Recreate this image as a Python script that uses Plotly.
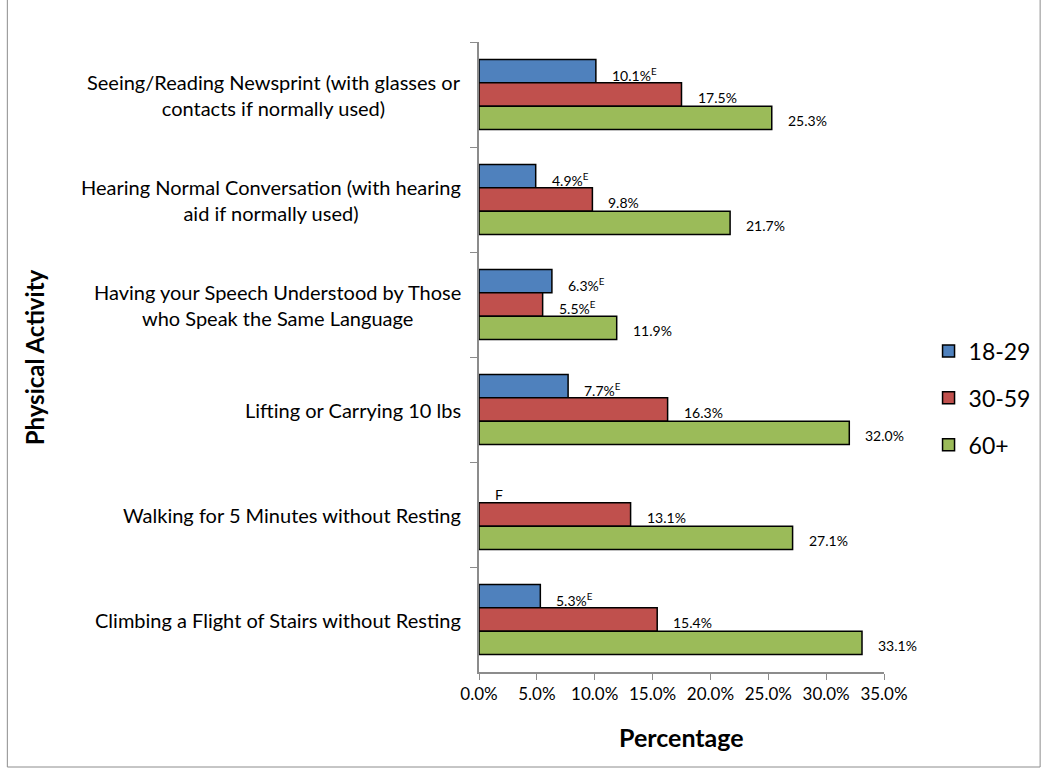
import plotly.graph_objects as go

categories = [
    "Seeing/Reading Newsprint (with glasses or<br>contacts if normally used)",
    "Hearing Normal Conversation (with hearing<br>aid if normally used)",
    "Having your Speech Understood by Those<br>who Speak the Same Language",
    "Lifting or Carrying 10 lbs",
    "Walking for 5 Minutes without Resting",
    "Climbing a Flight of Stairs without Resting",
]
series_names = ["18-29", "30-59", "60+"]
v_18_29 = [10.1, 4.9, 6.3, 7.7, None, 5.3]
v_30_59 = [17.5, 9.8, 5.5, 16.3, 13.1, 15.4]
v_60p = [25.3, 21.7, 11.9, 32.0, 27.1, 33.1]
lab_18_29 = ["10.1%<sup>E</sup>", "4.9%<sup>E</sup>", "6.3%<sup>E</sup>", "7.7%<sup>E</sup>", "F", "5.3%<sup>E</sup>"]
lab_30_59 = ["17.5%", "9.8%", "5.5%<sup>E</sup>", "16.3%", "13.1%", "15.4%"]
lab_60p = ["25.3%", "21.7%", "11.9%", "32.0%", "27.1%", "33.1%"]
x_ticks = [0, 5, 10, 15, 20, 25, 30, 35]
x_tick_text = ["0.0%", "5.0%", "10.0%", "15.0%", "20.0%", "25.0%", "30.0%", "35.0%"]

colors = ["#4F81BD", "#C0504D", "#9BBB59"]
FONT = "Lato"

values = [v_18_29, v_30_59, v_60p]
labels = [lab_18_29, lab_30_59, lab_60p]
idx = list(range(len(categories)))

fig = go.Figure()
for k in range(3):
    fig.add_trace(go.Bar(
        y=idx, x=values[k], orientation="h", name=series_names[k],
        marker=dict(color=colors[k], line=dict(color="black", width=1.5)),
        legendgroup=series_names[k],
    ))

bargap = 0.333
bw = (1 - bargap) / 3
annotations = []
for k in range(3):
    for i in idx:
        v = values[k][i] or 0
        annotations.append(dict(
            x=v, y=i + (k - 1) * bw, xref="x", yref="y", text=labels[k][i],
            showarrow=False, xanchor="left", yanchor="middle", xshift=14, yshift=-3,
            font=dict(family=FONT, size=14, color="black"),
        ))
for i in idx:
    annotations.append(dict(
        x=0, y=i, xref="paper", yref="y", text=categories[i], showarrow=False,
        xanchor="right", yanchor="middle", xshift=-16, align="center",
        font=dict(family=FONT, size=20, color="black"),
    ))
annotations.append(dict(
    x=-1.098, y=0.5, xref="paper", yref="paper", text="<b>Physical Activity</b>",
    textangle=-90, showarrow=False, xanchor="center", yanchor="middle",
    font=dict(family=FONT, size=24, color="black"),
))
annotations.append(dict(
    x=0.5, y=-0.103, xref="paper", yref="paper", text="<b>Percentage</b>",
    showarrow=False, xanchor="center", yanchor="middle",
    font=dict(family=FONT, size=25, color="black"),
))

fig.update_layout(
    width=1049, height=775,
    margin=dict(l=479, r=165, t=42, b=103, autoexpand=False),
    paper_bgcolor="white", plot_bgcolor="white",
    barmode="group", bargap=bargap, bargroupgap=0,
    showlegend=True,
    legend=dict(x=1.11, y=0.435, xanchor="left", yanchor="middle",
                font=dict(family=FONT, size=23, color="black"),
                tracegroupgap=14, traceorder="grouped", bgcolor="rgba(0,0,0,0)"),
    annotations=annotations,
    xaxis=dict(range=[0, 35], tickvals=x_ticks, ticktext=x_tick_text,
               showgrid=False, zeroline=False, showline=True, linecolor="#8c8c8c",
               linewidth=1.5, ticks="outside", ticklen=6, tickcolor="#8c8c8c",
               tickfont=dict(family=FONT, size=17, color="black")),
    yaxis=dict(type="category", autorange="reversed", showticklabels=False,
               showgrid=False, zeroline=False, showline=True, linecolor="#8c8c8c",
               linewidth=1.5, ticks="outside", ticklen=7, tickcolor="#8c8c8c",
               tickson="boundaries"),
    shapes=[dict(type="rect", xref="paper", yref="paper",
                 x0=-1.1646, x1=1.3855, y0=-0.1508, y1=1.0857,
                 line=dict(color="#8c8c8c", width=1))],
)

fig.write_html("out.html", config={"displayModeBar": False},
               post_script="document.body.style.margin='0px';")
